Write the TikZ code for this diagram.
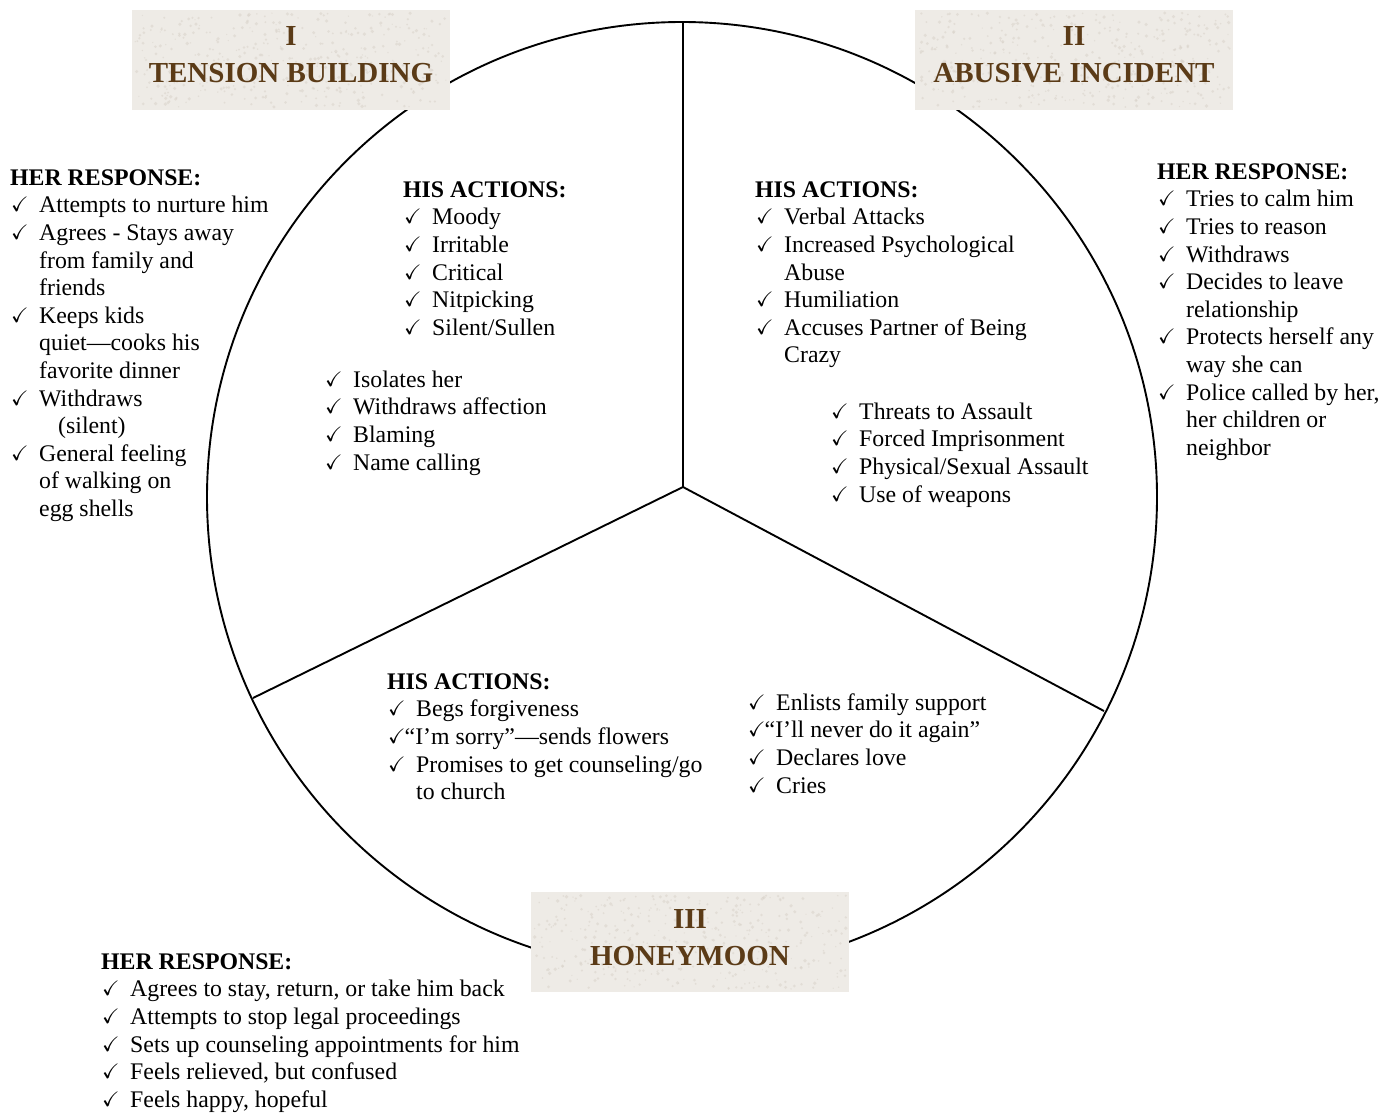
\documentclass[tikz,border=0pt]{standalone}
\usepackage{amssymb}
\usepackage{fontspec}
\setmainfont{Liberation Serif}
\definecolor{titlebrown}{HTML}{5B3B17}
\definecolor{titlebg}{HTML}{EEEBE6}
\definecolor{speck}{HTML}{D9D3CA}
\newcommand{\ckm}{\makebox[29pt][l]{\hspace*{1pt}\raisebox{1pt}{\fontsize{21}{21}\selectfont$\checkmark$}}}
\newcommand{\ckq}{\makebox[17.5pt][l]{\hspace*{1pt}\raisebox{1pt}{\fontsize{21}{21}\selectfont$\checkmark$}}}
\newcommand{\ind}{\hspace*{29pt}}
\newcommand{\fl}{\rule{0pt}{17pt}}
\tikzset{
  blk/.style={anchor=north west, inner sep=0pt, align=left, font=\fontsize{23.8}{27.6}\selectfont},
  titlebox/.style={draw=none, minimum width=318pt, minimum height=100pt, inner sep=0pt,
    align=center, text=titlebrown, font=\fontsize{29}{37}\selectfont\bfseries},
  ring/.style={line width=1.9pt}
}
\begin{document}
\begin{tikzpicture}[x=1pt,y=-1pt]
\useasboundingbox (0,0) rectangle (1394,1112);
% circle and spokes
\coordinate (cc) at (682,497);
\coordinate (hub) at (683,487);
\coordinate (top) at (683,22);
\coordinate (lft) at (253,698);
\coordinate (rgt) at (1104,711);
\draw[ring] (cc) circle (475);
\draw[ring] (hub) -- (top);
\draw[ring] (hub) -- (lft);
\draw[ring] (hub) -- (rgt);
% title box backgrounds with a light granite texture
\pgfmathsetseed{7}
\foreach \cx/\cy in {291/60,1074/60,690/942}{
  \fill[titlebg] (\cx-159,\cy-50) rectangle (\cx+159,\cy+50);
  \foreach \k in {1,...,420}{
    \pgfmathsetmacro{\px}{\cx+156*rand}
    \pgfmathsetmacro{\py}{\cy+47*rand}
    \pgfmathsetmacro{\pr}{0.6+1.3*rnd}
    \fill[speck, opacity=0.55] (\px,\py) circle (\pr);
  }
}
\node[titlebox] (t1) at (291,60) {I\\TENSION BUILDING\rule[-10pt]{0pt}{10pt}};
\node[titlebox] (t2) at (1074,60) {II\\ABUSIVE INCIDENT\rule[-10pt]{0pt}{10pt}};
\node[titlebox] (t3) at (690,942) {III\\HONEYMOON\rule[-10pt]{0pt}{10pt}};
% text blocks
\node[blk] (herA) at (10,168) {\fl\textbf{HER RESPONSE:}\\
\ckm Attempts to nurture him\\
\ckm Agrees - Stays away\\
\ind from family and\\
\ind friends\\
\ckm Keeps kids\\
\ind quiet---cooks his\\
\ind favorite dinner\\
\ckm Withdraws\\
\hspace*{48pt}(silent)\\
\ckm General feeling\\
\ind of walking on\\
\ind egg shells};
\node[blk] (hisA) at (403,180) {\fl\textbf{HIS ACTIONS:}\\
\ckm Moody\\
\ckm Irritable\\
\ckm Critical\\
\ckm Nitpicking\\
\ckm Silent/Sullen};
\node[blk] (hisA2) at (324,370) {\fl\ckm Isolates her\\
\ckm Withdraws affection\\
\ckm Blaming\\
\ckm Name calling};
\node[blk] (hisB) at (755,180) {\fl\textbf{HIS ACTIONS:}\\
\ckm Verbal Attacks\\
\ckm Increased Psychological\\
\ind Abuse\\
\ckm Humiliation\\
\ckm Accuses Partner of Being\\
\ind Crazy};
\node[blk] (hisB2) at (830,402) {\fl\ckm Threats to Assault\\
\ckm Forced Imprisonment\\
\ckm Physical/Sexual Assault\\
\ckm Use of weapons};
\node[blk] (herB) at (1157,162) {\fl\textbf{HER RESPONSE:}\\
\ckm Tries to calm him\\
\ckm Tries to reason\\
\ckm Withdraws\\
\ckm Decides to leave\\
\ind relationship\\
\ckm Protects herself any\\
\ind way she can\\
\ckm Police called by her,\\
\ind her children or\\
\ind neighbor};
\node[blk] (hisC) at (387,672) {\fl\textbf{HIS ACTIONS:}\\
\ckm Begs forgiveness\\
\ckq “I’m sorry”---sends flowers\\
\ckm Promises to get counseling/go\\
\ind to church};
\node[blk] (hisC2) at (747,693) {\fl\ckm Enlists family support\\
\ckq “I’ll never do it again”\\
\ckm Declares love\\
\ckm Cries};
\node[blk] (herC) at (101,952) {\fl\textbf{HER RESPONSE:}\\
\ckm Agrees to stay, return, or take him back\\
\ckm Attempts to stop legal proceedings\\
\ckm Sets up counseling appointments for him\\
\ckm Feels relieved, but confused\\
\ckm Feels happy, hopeful};
\end{tikzpicture}
\end{document}
